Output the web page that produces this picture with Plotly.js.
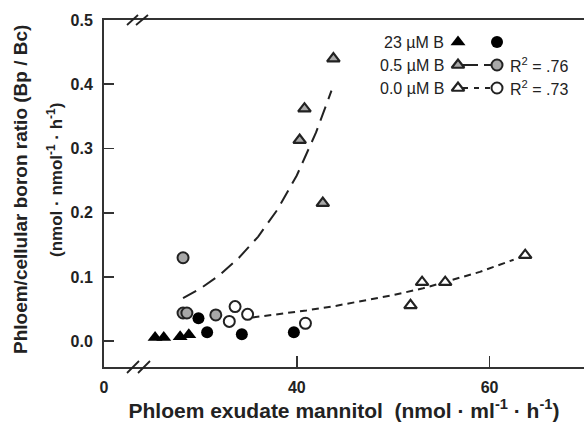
<!DOCTYPE html>
<html>
<head>
<meta charset="utf-8">
<script src="https://cdn.plot.ly/plotly-3.0.1.min.js"></script>
<style>html,body{margin:0;padding:0;background:#fff;}#chart{width:584px;height:425px;}</style>
</head>
<body>
<div id="chart"></div>
<script>
// ---- data ----
// 23 µM B
const b23TriX = [25.3, 26.2, 27.9, 28.8];
const b23TriY = [0.006, 0.006, 0.007, 0.010];
const b23CircX = [29.8, 30.7, 34.3, 39.7];
const b23CircY = [0.036, 0.014, 0.011, 0.014];
// 0.5 µM B
const b05TriX = [43.8, 40.8, 40.3, 42.7];
const b05TriY = [0.440, 0.362, 0.313, 0.215];
const b05CircX = [28.2, 28.6, 31.6, 28.2];
const b05CircY = [0.044, 0.044, 0.041, 0.130];
// 0.0 µM B
const b00TriX = [51.8, 53.0, 55.4, 63.7];
const b00TriY = [0.056, 0.092, 0.092, 0.134];
const b00CircX = [33.6, 33.0, 34.9, 40.9];
const b00CircY = [0.054, 0.031, 0.042, 0.028];
// fitted curves
const fit05X = [28.2, 30, 32, 34, 36, 38, 40, 42, 43.6];
const fit05Y = [0.067, 0.082, 0.103, 0.130, 0.163, 0.205, 0.258, 0.325, 0.390];
const fit00X = [35.4, 38, 41, 44, 47, 50, 53, 56, 59, 62.5];
const fit00Y = [0.037, 0.042, 0.048, 0.055, 0.063, 0.072, 0.082, 0.095, 0.108, 0.127];
// ticks
const xTickVals = [20, 40, 60];
const xTickText = ['0', '40', '60'];
const yTickVals = [0, 0.1, 0.2, 0.3, 0.4, 0.5];
const yTickText = ['0.0', '0.1', '0.2', '0.3', '0.4', '0.5'];
const legendLabels = ['23 µM B', '0.5 µM B', '0.0 µM B'];
const r2Labels = ['', 'R<sup>2</sup> = .76', 'R<sup>2</sup> = .73'];

// ---- layout helpers ----
const W = 584, H = 425, L = 104, R = 0, T = 20, B = 58;
const pw = W - L - R, ph = H - T - B;
const px = v => (v - L) / pw;
const py = v => (H - B - v) / ph;
const FONT = 'Arial, "Liberation Sans", sans-serif';
const DARK = '#222';
const GRAY = '#a8a8a8';

const mk = (sym, fill, lineW, size) => ({symbol: sym, color: fill, size: size || 11,
  line: {color: DARK, width: lineW}});

const traces = [
  {x: fit05X, y: fit05Y, mode: 'lines', line: {color: DARK, width: 2, dash: '15px,8px'}},
  {x: fit00X, y: fit00Y, mode: 'lines', line: {color: DARK, width: 2, dash: '7px,5px'}},
  {x: b23TriX, y: b23TriY, mode: 'markers', marker: mk('triangle-up', '#000', 0, 13)},
  {x: b23CircX, y: b23CircY, mode: 'markers', marker: mk('circle', '#000', 0, 12)},
  {x: b05TriX, y: b05TriY, mode: 'markers', marker: mk('triangle-up', GRAY, 2.2, 11)},
  {x: b05CircX, y: b05CircY, mode: 'markers', marker: mk('circle', GRAY, 2, 11)},
  {x: b00TriX, y: b00TriY, mode: 'markers', marker: mk('triangle-up', '#fff', 2.2, 11)},
  {x: b00CircX, y: b00CircY, mode: 'markers', marker: mk('circle', '#fff', 2, 11)},
];

// legend keys on an overlay 0..1 frame
const rowY = [py(42), py(65), py(88)];
const keyTriX = px(458), keyCircX = px(497);
const leg = (x, y, extra) => Object.assign({x: x, y: y, xaxis: 'x2', yaxis: 'y2', hoverinfo: 'skip'}, extra);
traces.push(
  leg([px(463), px(492)], [rowY[1], rowY[1]], {mode: 'lines', line: {color: DARK, width: 2, dash: '15px,6px'}}),
  leg([px(463), px(492)], [rowY[2], rowY[2]], {mode: 'lines', line: {color: DARK, width: 2, dash: '5px,6px'}}),
  leg([keyTriX], [rowY[0]], {mode: 'markers', marker: mk('triangle-up', '#000', 0, 13)}),
  leg([keyCircX], [rowY[0]], {mode: 'markers', marker: mk('circle', '#000', 0, 12)}),
  leg([keyTriX], [rowY[1]], {mode: 'markers', marker: mk('triangle-up', GRAY, 2.2, 11)}),
  leg([keyCircX], [rowY[1]], {mode: 'markers', marker: mk('circle', GRAY, 2, 11)}),
  leg([keyTriX], [rowY[2]], {mode: 'markers', marker: mk('triangle-up', '#fff', 2.2, 11)}),
  leg([keyCircX], [rowY[2]], {mode: 'markers', marker: mk('circle', '#fff', 2, 11)})
);

const annotations = [];
legendLabels.forEach((t, i) => {
  annotations.push({xref: 'paper', yref: 'paper', x: px(446), y: rowY[i], xanchor: 'right', yanchor: 'middle',
    text: t, showarrow: false, font: {family: FONT, size: 16, color: DARK}});
  if (r2Labels[i]) annotations.push({xref: 'paper', yref: 'paper', x: px(508), y: rowY[i], xanchor: 'left', yanchor: 'middle',
    text: r2Labels[i], showarrow: false, font: {family: FONT, size: 16, color: DARK}});
});
annotations.push(
  {xref: 'paper', yref: 'paper', x: px(20), y: py(190), xanchor: 'center', yanchor: 'middle', textangle: -90,
   text: 'Phloem/cellular boron ratio (Bp / Bc)', showarrow: false, font: {family: FONT, size: 19, color: DARK, weight: 'bold'}},
  {xref: 'paper', yref: 'paper', x: px(55), y: py(180), xanchor: 'center', yanchor: 'middle', textangle: -90,
   text: '(nmol · nmol<sup>-1</sup> · h<sup>-1</sup>)', showarrow: false, font: {family: FONT, size: 17, color: DARK, weight: 'bold'}}
);

// axis break marks
const brk = (x1, y1, x2, y2) => ({type: 'line', xref: 'paper', yref: 'paper',
  x0: px(x1), y0: py(y1), x1: px(x2), y1: py(y2), line: {color: DARK, width: 1.8}});
const shapes = [
  brk(127, 373, 139, 361), brk(138, 373, 150, 361),
  brk(127, 25, 138, 15), brk(136, 25, 148, 15)
];

const layout = {
  width: W, height: H,
  margin: {l: L, r: R, t: T, b: B, pad: 0},
  paper_bgcolor: '#fff', plot_bgcolor: '#fff',
  showlegend: false,
  font: {family: FONT, color: DARK},
  xaxis: {
    range: [20, 69.8], tickvals: xTickVals, ticktext: xTickText,
    ticks: 'inside', ticklen: 11, tickwidth: 1.8, tickcolor: '#333',
    showline: true, linecolor: '#333', linewidth: 2, mirror: true,
    showgrid: false, zeroline: false, ticklabelstandoff: 5,
    tickfont: {family: FONT, size: 16, color: DARK, weight: 'bold'},
    title: {text: 'Phloem exudate mannitol  (nmol · ml<sup>-1</sup> · h<sup>-1</sup>)', standoff: 5,
      font: {family: FONT, size: 21, color: DARK, weight: 'bold'}}
  },
  yaxis: {
    range: [-0.04, 0.5], tickvals: yTickVals, ticktext: yTickText,
    ticks: 'inside', ticklen: 10, tickwidth: 1.8, tickcolor: '#333',
    showline: true, linecolor: '#333', linewidth: 2,
    showgrid: false, zeroline: false, ticklabelstandoff: 6,
    tickfont: {family: FONT, size: 16, color: DARK, weight: 'bold'}
  },
  xaxis2: {overlaying: 'x', range: [0, 1], visible: false, fixedrange: true},
  yaxis2: {overlaying: 'y', range: [0, 1], visible: false, fixedrange: true},
  annotations: annotations,
  shapes: shapes
};

Plotly.newPlot('chart', traces, layout, {staticPlot: true, displayModeBar: false});
</script>
</body>
</html>
